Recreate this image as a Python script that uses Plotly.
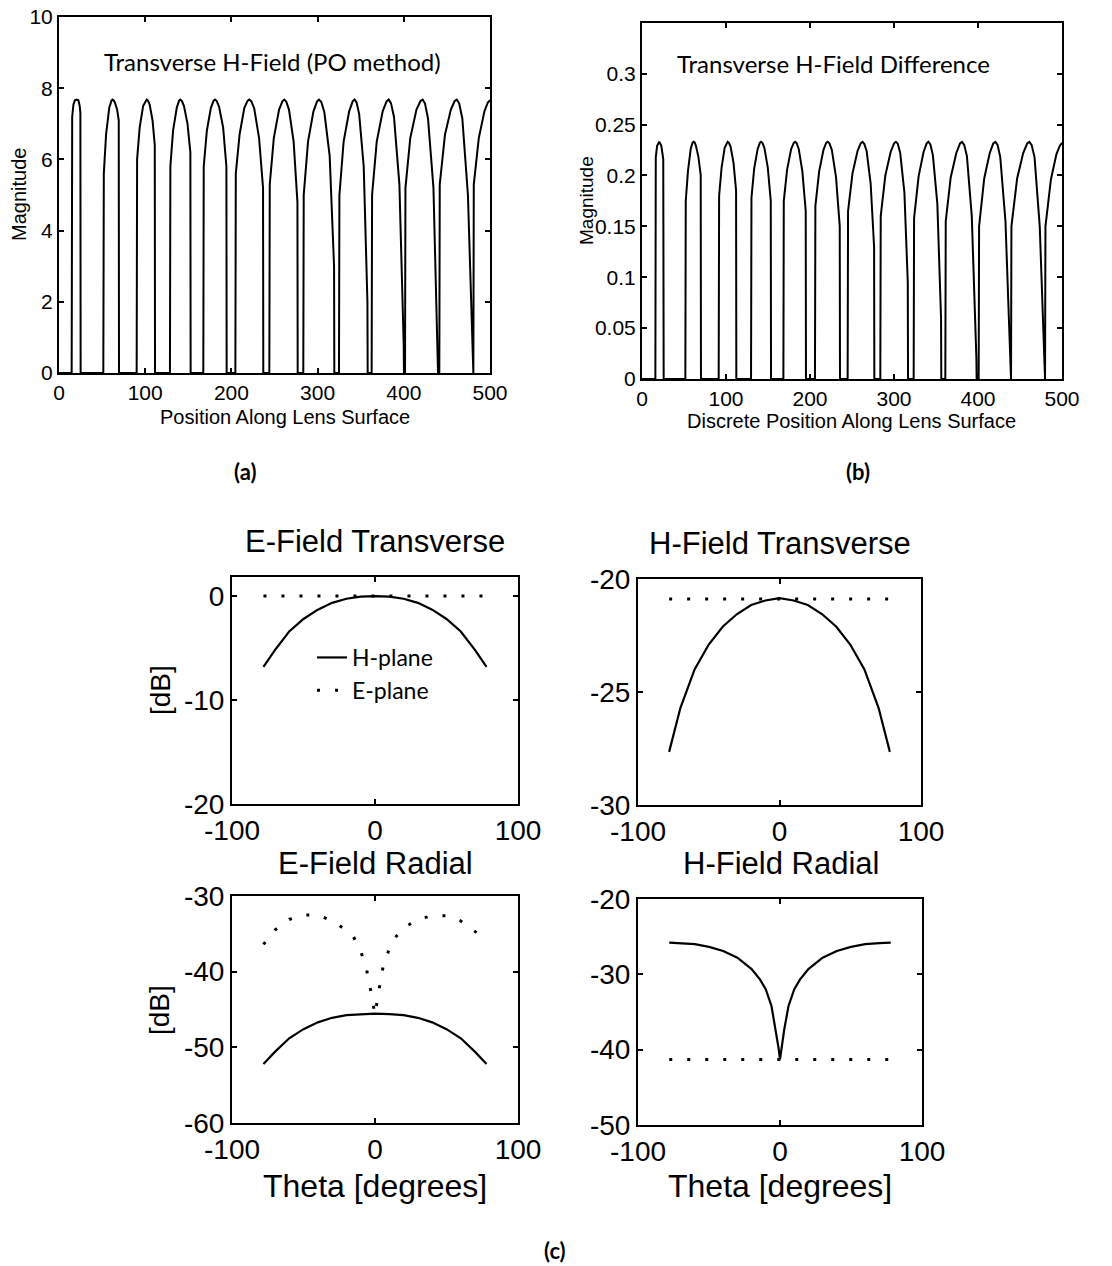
import plotly.graph_objects as go

W, H = 1112, 1266

# ---------------- (a) Transverse H-Field (PO method) ----------------
a_x = [0,
       14.7, 15.3, 16.8, 18.5, 20.5, 22.5, 24.0, 24.8, 25.1,
       51.4, 52.0, 54.6, 58.3, 60.9, 62.2, 63.3, 64.8, 67.4, 69.3, 69.6,
       90.1, 90.6, 93.6, 97.6, 100.3, 101.7, 103.2, 105.1, 108.5, 111.1, 111.4,
       128.7, 129.2, 132.3, 136.6, 139.3, 140.8, 142.6, 145.0, 149.1, 152.4, 152.7,
       167.4, 167.9, 171.5, 176.2, 179.4, 181.0, 183.0, 185.7, 190.4, 194.2, 194.5,
       204.6, 205.1, 209.5, 215.0, 218.9, 220.8, 223.2, 226.5, 232.1, 236.7, 237.0,
       244.0, 244.5, 249.2, 255.3, 259.3, 261.4, 263.7, 266.8, 272.2, 276.6, 276.9,
       283.4, 283.9, 288.9, 295.2, 299.4, 301.6, 304.3, 307.8, 314.0, 319.1, 319.4,
       324.8, 325.3, 330.2, 336.6, 340.7, 342.9, 345.2, 348.2, 353.5, 357.8, 358.1,
       362.7, 363.2, 368.6, 375.5, 380.0, 382.4, 385.1, 388.6, 394.9, 399.9, 400.2,
       401.4, 401.9, 407.5, 414.7, 419.4, 421.9, 424.6, 428.1, 434.4, 439.4, 439.7,
       441.2, 441.7, 447.8, 454.6, 459.0, 461.5, 464.3, 467.9, 474.4, 479.6, 479.9,
       480.7, 481.2, 487.0, 493.5, 497.5, 500.0]
a_y = [0,
       0, 7.2, 7.55, 7.66, 7.68, 7.66, 7.5, 7.3, 0,
       0, 5.6, 6.7, 7.45, 7.65, 7.68, 7.66, 7.6, 7.4, 7.1, 0,
       0, 6.0, 6.9, 7.5, 7.65, 7.68, 7.65, 7.55, 7.1, 6.4, 0,
       0, 5.8, 6.8, 7.45, 7.65, 7.68, 7.64, 7.5, 7.0, 6.2, 0,
       0, 5.8, 6.8, 7.45, 7.65, 7.68, 7.64, 7.48, 6.9, 5.8, 0,
       0, 5.6, 6.7, 7.45, 7.65, 7.68, 7.63, 7.43, 6.6, 5.2, 0,
       0, 5.3, 6.6, 7.4, 7.64, 7.68, 7.62, 7.4, 6.5, 4.8, 0,
       0, 5.0, 6.5, 7.35, 7.63, 7.68, 7.61, 7.33, 6.1, 3.0, 0,
       0, 5.0, 6.5, 7.35, 7.63, 7.68, 7.6, 7.28, 5.8, 2.0, 0,
       0, 5.0, 6.5, 7.35, 7.63, 7.68, 7.58, 7.2, 5.3, 0.8, 0,
       0, 5.2, 6.6, 7.4, 7.64, 7.68, 7.57, 7.15, 5.2, 0.6, 0,
       0, 5.3, 6.7, 7.4, 7.64, 7.68, 7.57, 7.15, 5.0, 0.5, 0,
       0, 5.3, 6.6, 7.35, 7.6, 7.66]

# ---------------- (b) Transverse H-Field Difference ----------------
b_x = [0,
       15.9, 16.4, 18.0, 20.5, 23.0, 25.3, 25.8,
       51.6, 52.1, 54.8, 58.0, 60.1, 61.3, 62.6, 64.2, 67.2, 69.9, 70.2,
       91.3, 91.8, 94.8, 98.4, 100.8, 102.0, 103.5, 105.5, 109.0, 112.0, 112.3,
       129.8, 130.3, 133.6, 137.7, 140.3, 141.7, 143.4, 145.7, 149.7, 153.3, 153.6,
       168.3, 168.8, 172.8, 177.6, 180.7, 182.3, 184.2, 186.6, 190.9, 194.9, 195.2,
       205.9, 206.4, 210.9, 216.0, 219.2, 221.0, 223.2, 226.0, 231.0, 235.4, 235.7,
       244.8, 245.3, 250.6, 256.6, 260.4, 262.5, 264.6, 267.4, 272.2, 276.3, 276.6,
       283.7, 284.2, 289.7, 296.0, 300.1, 302.3, 304.5, 307.4, 312.4, 316.4, 316.7,
       323.4, 323.9, 329.3, 335.2, 338.9, 341.0, 343.3, 346.3, 351.6, 356.0, 356.3,
       361.1, 361.6, 367.5, 374.2, 378.6, 381.0, 383.6, 386.8, 392.6, 398.1, 398.4,
       400.8, 401.3, 407.4, 414.0, 418.2, 420.6, 423.3, 426.5, 432.7, 439.0, 439.3,
       439.3, 439.8, 446.6, 453.8, 458.6, 461.1, 463.8, 467.3, 473.5, 479.5, 479.8,
       479.8, 480.3, 486.8, 493.4, 497.3, 500.0]
b_y = [0,
       0, 0.218, 0.229, 0.233, 0.229, 0.216, 0,
       0, 0.175, 0.205, 0.226, 0.232, 0.233, 0.2325, 0.229, 0.218, 0.200, 0,
       0, 0.180, 0.208, 0.227, 0.232, 0.233, 0.232, 0.228, 0.212, 0.185, 0,
       0, 0.178, 0.207, 0.226, 0.232, 0.233, 0.232, 0.227, 0.208, 0.175, 0,
       0, 0.175, 0.206, 0.226, 0.232, 0.233, 0.2315, 0.226, 0.204, 0.165, 0,
       0, 0.170, 0.204, 0.225, 0.232, 0.233, 0.2315, 0.225, 0.198, 0.150, 0,
       0, 0.165, 0.202, 0.224, 0.2315, 0.233, 0.231, 0.224, 0.192, 0.130, 0,
       0, 0.160, 0.200, 0.223, 0.2315, 0.233, 0.231, 0.222, 0.183, 0.095, 0,
       0, 0.158, 0.199, 0.223, 0.2315, 0.233, 0.2305, 0.220, 0.172, 0.060, 0,
       0, 0.155, 0.198, 0.222, 0.2315, 0.233, 0.230, 0.219, 0.160, 0.020, 0,
       0, 0.150, 0.197, 0.222, 0.2315, 0.233, 0.230, 0.218, 0.155, 0.010, 0,
       0, 0.150, 0.197, 0.222, 0.2315, 0.233, 0.230, 0.218, 0.150, 0.008, 0,
       0, 0.150, 0.196, 0.221, 0.229, 0.232]

# ---------------- (c) far-field patterns ----------------
theta = [-78, -70, -60, -50, -40, -30, -20, -10, 0, 10, 20, 30, 40, 50, 60, 70, 78]
et_h = [-6.8, -5.2, -3.4, -2.2, -1.3, -0.65, -0.25, -0.05, 0, -0.05, -0.25, -0.65, -1.3, -2.2, -3.4, -5.2, -6.8]
et_e = [0.0] * 17
ht_h = [-27.65, -25.7, -24.0, -22.9, -22.1, -21.55, -21.15, -20.95, -20.85, -20.95, -21.15, -21.55, -22.1, -22.9, -24.0, -25.7, -27.65]
ht_e = [-20.88] * 17
er_h = [-52.2, -50.6, -48.8, -47.6, -46.7, -46.1, -45.75, -45.6, -45.55, -45.6, -45.75, -46.1, -46.7, -47.6, -48.8, -50.6, -52.2]

theta_er = [-78, -70, -60, -50, -40, -30, -20, -15, -10, -6, -3, 0, 3, 6, 10, 15, 20, 30, 40, 50, 60, 70, 78]
er_e = [-36.4, -34.5, -33.1, -32.5, -32.5, -33.3, -34.5, -35.4, -37.3, -39.6, -42.5, -45.7,
        -42.2, -39.0, -37.0, -35.3, -34.2, -33.1, -32.6, -32.6, -33.3, -34.7, -35.8]

theta_hr = [-78, -70, -60, -50, -40, -30, -20, -14, -10, -6, -3, -1, 0, 1, 3, 6, 10, 14, 20, 30, 40, 50, 60, 70, 78]
hr_h = [-25.8, -25.85, -26.0, -26.35, -26.9, -27.8, -29.3, -30.7, -32.0, -34.2, -37.3, -39.8, -41.3,
        -39.8, -37.3, -34.2, -32.0, -30.7, -29.3, -27.8, -26.9, -26.35, -26.0, -25.85, -25.8]
hr_e = [-41.3] * 17

# ---------------- layout helpers ----------------
def px(x):
    return x / W

def py(y):
    return 1 - y / H

AX_FONT = "Liberation Sans, Arial, sans-serif"
HUM_FONT = "Lato, Open Sans, sans-serif"

fig = go.Figure()
dotted = dict(color="black", width=3, dash="3px,15px")
solid_c = dict(color="black", width=2.2)

fig.add_trace(go.Scatter(x=a_x, y=a_y, mode="lines", line=dict(color="black", width=2),
                         xaxis="x", yaxis="y", showlegend=False))
fig.add_trace(go.Scatter(x=b_x, y=b_y, mode="lines", line=dict(color="black", width=2),
                         xaxis="x2", yaxis="y2", showlegend=False))

fig.add_trace(go.Scatter(x=theta, y=et_h, mode="lines", line=solid_c,
                         name="H-plane", xaxis="x3", yaxis="y3", showlegend=True))
fig.add_trace(go.Scatter(x=theta, y=et_e, mode="lines", line=dotted,
                         name="E-plane", xaxis="x3", yaxis="y3", showlegend=True))
fig.add_trace(go.Scatter(x=theta, y=ht_h, mode="lines", line=solid_c,
                         xaxis="x4", yaxis="y4", showlegend=False))
fig.add_trace(go.Scatter(x=theta, y=ht_e, mode="lines", line=dotted,
                         xaxis="x4", yaxis="y4", showlegend=False))
fig.add_trace(go.Scatter(x=theta, y=er_h, mode="lines", line=solid_c,
                         xaxis="x5", yaxis="y5", showlegend=False))
fig.add_trace(go.Scatter(x=theta_er, y=er_e, mode="lines", line=dotted,
                         xaxis="x5", yaxis="y5", showlegend=False))
fig.add_trace(go.Scatter(x=theta_hr, y=hr_h, mode="lines", line=solid_c,
                         xaxis="x6", yaxis="y6", showlegend=False))
fig.add_trace(go.Scatter(x=theta, y=hr_e, mode="lines", line=dotted,
                         xaxis="x6", yaxis="y6", showlegend=False))

def axis(domain, rng, tickvals, ticktext, size, anchor):
    return dict(domain=domain, range=rng, tickvals=tickvals, ticktext=ticktext,
                showgrid=False, zeroline=False, showline=True, mirror="ticks",
                linecolor="black", linewidth=2, ticks="inside", ticklen=5,
                tickwidth=1.5, tickcolor="black", anchor=anchor, automargin=False,
                tickfont=dict(family=AX_FONT, size=size, color="black"))

top_x = [0, 100, 200, 300, 400, 500]
top_xt = ["0", "100", "200", "300", "400", "500"]

layout = dict(
    width=W, height=H, margin=dict(l=0, r=0, t=0, b=0, autoexpand=False),
    paper_bgcolor="white", plot_bgcolor="white",
    xaxis=axis([px(59), px(490)], [0, 500], top_x, top_xt, 21, "y"),
    yaxis=axis([py(373), py(17)], [0, 10], [0, 2, 4, 6, 8, 10],
               ["0", "2", "4", "6", "8", "10"], 21, "x"),
    xaxis2=axis([px(642), px(1062)], [0, 500], top_x, top_xt, 21, "y2"),
    yaxis2=axis([py(379), py(22.7)], [0, 0.35], [0, 0.05, 0.1, 0.15, 0.2, 0.25, 0.3],
                ["0", "0.05", "0.1", "0.15", "0.2", "0.25", "0.3"], 21, "x2"),
    xaxis3=axis([px(232), px(518)], [-100, 100], [-100, 0, 100], ["-100", "0", "100"], 28, "y3"),
    yaxis3=axis([py(804), py(577)], [-20, 1.84], [-20, -10, 0], ["-20", "-10", "0"], 28, "x3"),
    xaxis4=axis([px(638), px(921)], [-100, 100], [-100, 0, 100], ["-100", "0", "100"], 28, "y4"),
    yaxis4=axis([py(805), py(579)], [-30, -20], [-30, -25, -20], ["-30", "-25", "-20"], 28, "x4"),
    xaxis5=axis([px(232), px(518)], [-100, 100], [-100, 0, 100], ["-100", "0", "100"], 28, "y5"),
    yaxis5=axis([py(1123), py(896)], [-60, -30], [-60, -50, -40, -30],
                ["-60", "-50", "-40", "-30"], 28, "x5"),
    xaxis6=axis([px(638), px(922)], [-100, 100], [-100, 0, 100], ["-100", "0", "100"], 28, "y6"),
    yaxis6=axis([py(1125), py(899)], [-50, -20], [-50, -40, -30, -20],
                ["-50", "-40", "-30", "-20"], 28, "x6"),
    legend=dict(x=px(312), y=py(636), xanchor="left", yanchor="top",
                bgcolor="rgba(0,0,0,0)", borderwidth=0,
                font=dict(family=HUM_FONT, size=23, color="black"),
                tracegroupgap=0, itemwidth=30),
    showlegend=True,
)
fig.update_layout(**layout)

def ann(text, x, y, size, family=AX_FONT, angle=0, bold=False):
    if bold:
        text = "<b>" + text + "</b>"
    fig.add_annotation(text=text, x=px(x), y=py(y), xref="paper", yref="paper",
                       showarrow=False, textangle=angle, xanchor="center", yanchor="middle",
                       font=dict(family=family, size=size, color="black"))

ann("Transverse H-Field (PO method)", 272, 62, 24, HUM_FONT)
ann("Transverse H-Field Difference", 833, 63, 24, HUM_FONT)
ann("Magnitude", 19, 195, 20, angle=-90)
ann("Position Along Lens Surface", 285, 417, 20)
ann("Magnitude", 586, 201, 19, angle=-90)
ann("Discrete Position Along Lens Surface", 851, 421, 20)
ann("(a)", 245, 472, 22, HUM_FONT, bold=True)
ann("(b)", 858, 472, 22, HUM_FONT, bold=True)
ann("(c)", 555, 1250, 22, HUM_FONT, bold=True)

ann("E-Field Transverse", 375, 541, 31)
ann("H-Field Transverse", 780, 543, 31)
ann("E-Field Radial", 375, 863, 31)
ann("H-Field Radial", 781, 863, 31)
ann("[dB]", 160, 690, 28, angle=-90)
ann("[dB]", 160, 1010, 28, angle=-90)
ann("Theta [degrees]", 375, 1186, 32)
ann("Theta [degrees]", 780, 1186, 32)

fig.write_html("out.html")
